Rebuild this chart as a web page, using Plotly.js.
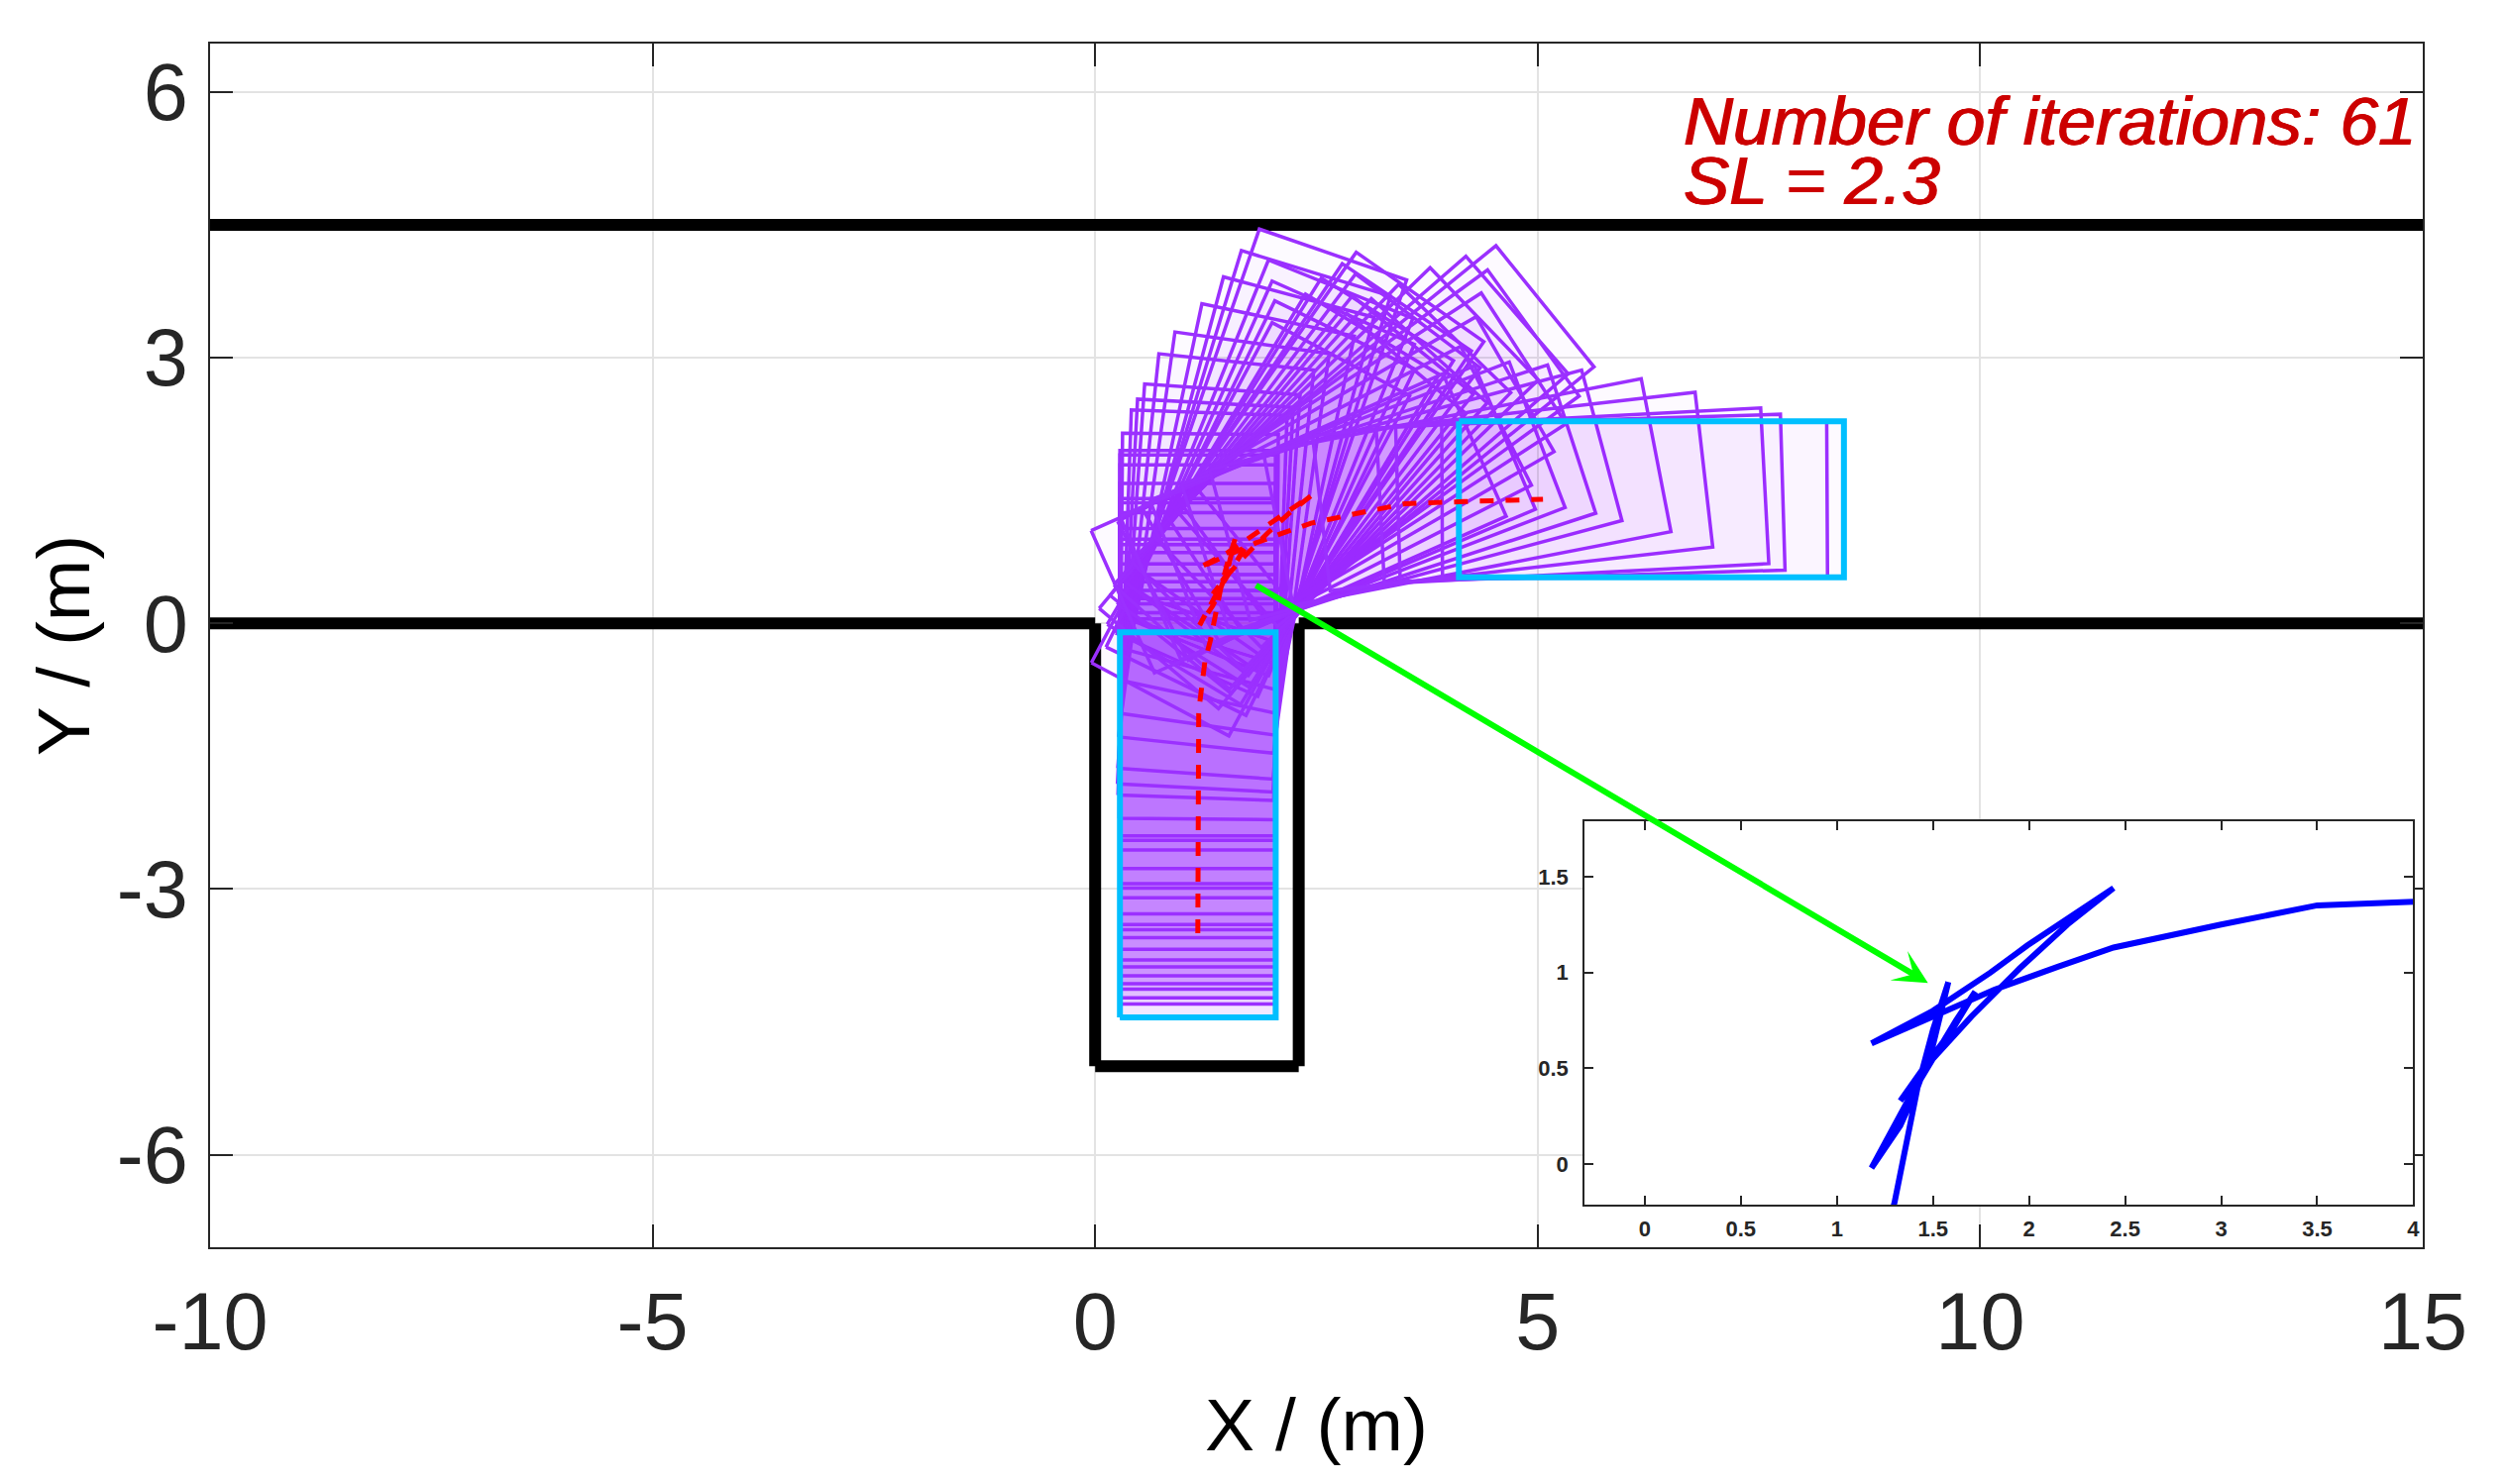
<!DOCTYPE html>
<html><head><meta charset="utf-8">
<script src="https://cdn.plot.ly/plotly-3.0.1.min.js"></script>
<style>html,body{margin:0;padding:0;background:#fff}</style></head>
<body><div id="chart" style="width:2530px;height:1498px"></div>
<script>
// Vehicle poses: reference point (m) and heading (deg)
const poseX = [1.16,1.16,1.16,1.16,1.16,1.16,1.16,1.16,1.16,1.16,1.16,1.16,1.16,1.16,1.16,1.16,1.16,1.16,1.16,1.16,1.16,1.17,1.18,
  1.2,1.24,1.3,1.36,1.42,1.5,1.58,
  1.5,1.42,1.33,1.18,
  1.38,1.5,1.62,1.72,
  1.6,1.45,1.33,
  1.5,1.7,1.95,2.2,2.44,
  2.2,1.99,1.8,1.5,1.18,
  1.5,1.82,2.15,2.44,3.0,3.5,4.17,4.37,4.87,5.06];
const poseY = [-3.5,-3.35,-3.28,-3.18,-3.12,-3.03,-2.93,-2.85,-2.73,-2.60,-2.51,-2.45,-2.33,-2.15,-2.04,-1.99,-1.82,-1.61,-1.50,-1.45,-1.26,-1.02,-0.91,
  -0.75,-0.43,-0.2,0.1,0.4,0.7,0.95,
  0.62,0.4,0.2,-0.02,
  0.35,0.55,0.75,0.9,
  0.7,0.5,0.33,
  0.55,0.77,1.02,1.25,1.44,
  1.28,1.14,1.0,0.8,0.63,
  0.77,0.91,1.03,1.13,1.25,1.35,1.375,1.38,1.39,1.4];
const poseHeading = [90,90,90,90,90,90,90,90,90,90,90,90,90,90,90,90,90,90,90,90,89.5,88,87,
  86,84,82,78,75,73,71,
  68,66,64,62,
  59,58,56,55,
  53,51,50,
  48,46,44,41,39,
  36,33,30,27,24,
  23,21,18,15,11,6.5,3,1.7,0.3,0];
// Vehicle body (m)
const bodyLength = 4.35, bodyWidth = 1.76, rearOverhang = 0.95;
// Boundary walls
const wallX = [-10,0,null,0,0,null,0,2.3,null,2.3,2.3,null,2.3,15,null,-10,15];
const wallY = [0,0,null,0,-5,null,-5,-5,null,-5,0,null,0,0,null,4.5,4.5];
// Ticks
const xTicks = [-10,-5,0,5,10,15];
const xTickText = ['-10','-5','0','5','10','15'];
const yTicks = [-6,-3,0,3,6];
const yTickText = ['-6','-3','0','3','6'];
const insetXTicks = [0,0.5,1,1.5,2,2.5,3,3.5,4];
const insetYTicks = [0,0.5,1,1.5];
// Callout arrow (tail, head) in main axes units
const arrowTail = [1.80,0.44];
const arrowHead = [9.41,-4.06];
const noteLines = ['Number of iterations: 61','SL = 2.3'];

function outline(i){
  const t = poseHeading[i]*Math.PI/180, c = Math.cos(t), s = Math.sin(t);
  const f = bodyLength-rearOverhang, r = -rearOverhang, w = bodyWidth/2;
  const local = [[r,w],[f,w],[f,-w],[r,-w],[r,w]];
  return {x: local.map(p=>poseX[i]+p[0]*c-p[1]*s), y: local.map(p=>poseY[i]+p[0]*s+p[1]*c)};
}
const traces = [];
traces.push({x:wallX,y:wallY,mode:'lines',line:{color:'#000',width:12},connectgaps:false,hoverinfo:'skip'});
poseX.forEach((_,i)=>{
  const o = outline(i);
  const a = i<6 ? 0.11 : (i<30 ? 0.018 : 0.022);
  traces.push({x:o.x,y:o.y,mode:'lines',fill:'toself',fillcolor:`rgba(155,48,255,${a})`,
    line:{color:'#9B30FF',width:3.5},hoverinfo:'skip'});
});
[0,poseX.length-1].forEach(i=>{
  const o = outline(i);
  traces.push({x:o.x,y:o.y,mode:'lines',line:{color:'#00BFFF',width:6},hoverinfo:'skip'});
});
traces.push({x:poseX,y:poseY,mode:'lines',line:{color:'#FF0000',width:5,dash:'14px,12px'},hoverinfo:'skip'});
traces.push({x:poseX,y:poseY,xaxis:'x2',yaxis:'y2',mode:'lines',line:{color:'#0000FF',width:6},hoverinfo:'skip'});

const ink = '#262626', fontName = '"Liberation Sans",Arial,sans-serif';
const noteShadow = '0.7px 0 0 #CC0000, -0.7px 0 0 #CC0000';
const plotW = 2530-211.5-85, plotH = 1498-44-239;
const layout = {
  width:2530,height:1498,showlegend:false,
  paper_bgcolor:'#fff',plot_bgcolor:'#fff',
  margin:{l:211.5,r:85,t:44,b:239,autoexpand:false},
  font:{family:fontName,color:ink},
  xaxis:{range:[-10,15],tickvals:xTicks,ticktext:xTickText,ticks:'inside',ticklen:23,tickwidth:2,tickcolor:ink,
    showline:true,linecolor:ink,linewidth:2,mirror:'ticks',showgrid:true,gridcolor:'#e3e3e3',gridwidth:1.5,zeroline:false,
    tickfont:{size:81,color:ink},ticklabelstandoff:4,automargin:false,
    title:{text:'X / (m)',font:{size:75,color:'#000'},standoff:33}},
  yaxis:{range:[-7.045,6.546],tickvals:yTicks,ticktext:yTickText,ticks:'inside',ticklen:23,tickwidth:2,tickcolor:ink,
    showline:true,linecolor:ink,linewidth:2,mirror:'ticks',showgrid:true,gridcolor:'#e3e3e3',gridwidth:1.5,zeroline:false,
    tickfont:{size:81,color:ink},ticklabelstandoff:4,automargin:true,
    title:{text:'Y / (m)',font:{size:75,color:'#000'},standoff:3}},
  xaxis2:{domain:[(1599-211.5)/plotW,(2435.4-211.5)/plotW],anchor:'y2',range:[-0.313,4],tickvals:insetXTicks,
    ticks:'inside',ticklen:9,tickwidth:2,tickcolor:ink,showline:true,linecolor:ink,linewidth:2,mirror:'ticks',
    showgrid:false,zeroline:false,tickfont:{size:22,color:ink,weight:'bold'},ticklabelstandoff:4},
  yaxis2:{domain:[(1259-1216)/plotH,(1259-829)/plotH],anchor:'x2',range:[-0.2116,1.789],tickvals:insetYTicks,
    ticks:'inside',ticklen:9,tickwidth:2,tickcolor:ink,showline:true,linecolor:ink,linewidth:2,mirror:'ticks',
    showgrid:false,zeroline:false,tickfont:{size:22,color:ink,weight:'bold'},ticklabelstandoff:10},
  annotations:[
    {xref:'x',yref:'y',axref:'x',ayref:'y',x:arrowHead[0],y:arrowHead[1],ax:arrowTail[0],ay:arrowTail[1],
      text:'',showarrow:true,arrowhead:3,arrowsize:0.95,arrowwidth:6,arrowcolor:'#00FF00'},
    {xref:'paper',yref:'paper',x:(1697-211.5)/plotW,y:(1259-122)/plotH,xanchor:'left',yanchor:'middle',showarrow:false,
      text:noteLines[0],font:{size:69.3,color:'#CC0000',style:'italic',shadow:noteShadow}},
    {xref:'paper',yref:'paper',x:(1697-211.5)/plotW,y:(1259-182)/plotH,xanchor:'left',yanchor:'middle',showarrow:false,
      text:noteLines[1],font:{size:69.3,color:'#CC0000',style:'italic',shadow:noteShadow}}
  ]
};
Plotly.newPlot('chart',traces,layout,{displayModeBar:false,responsive:false});
</script></body></html>
